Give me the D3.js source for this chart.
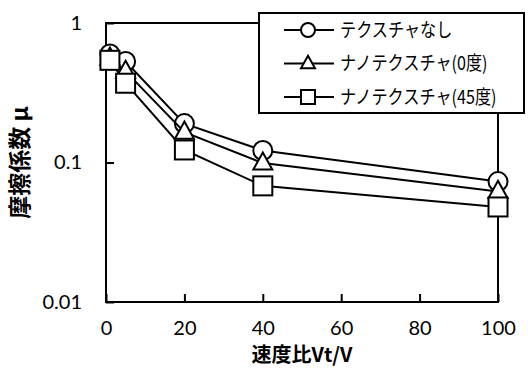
<!DOCTYPE html>
<html>
<head>
<meta charset="utf-8">
<script src="https://cdn.jsdelivr.net/npm/d3@7"></script>
<style>
  body { margin: 0; background: #fff; }
  svg { display: block; }
</style>
</head>
<body>
<div id="chart"></div>
<script>
// data
const speedRatio = [1, 5, 20, 40, 100]
const seriesNames = ["テクスチャなし", "ナノテクスチャ(0度)", "ナノテクスチャ(45度)"]
const muNoTexture = [0.60, 0.53, 0.19, 0.122, 0.073]
const muNano0 = [0.56, 0.45, 0.165, 0.099, 0.062]
const muNano45 = [0.54, 0.37, 0.123, 0.068, 0.048]
const xTicks = [0, 20, 40, 60, 80, 100]
const yTicks = [0.01, 0.1, 1]

const width = 528
const height = 368
const margin = { top: 23, right: 30, bottom: 66, left: 106 }
const numFont = "Lato, 'Open Sans', sans-serif"
const jpFont = "'Noto Sans CJK JP', sans-serif"

const series = [
    { name: seriesNames[0], values: muNoTexture, shape: "circle" },
    { name: seriesNames[1], values: muNano0, shape: "triangle" },
    { name: seriesNames[2], values: muNano45, shape: "square" },
]

const svg = d3.select("#chart")
    .append("svg")
    .attr("width", width)
    .attr("height", height)

svg.append("rect").attr("width", width).attr("height", height).attr("fill", "#fff")

const x = d3.scaleLinear()
    .domain([0, 100])
    .range([margin.left, width - margin.right])

const y = d3.scaleLog()
    .domain([0.01, 1])
    .range([height - margin.bottom, margin.top])

// axes, ticks pointing inward
const xAxis = svg.append("g")
    .attr("transform", `translate(0, ${height - margin.bottom})`)
    .call(d3.axisBottom(x).tickValues(xTicks).tickSize(-8).tickPadding(19).tickSizeOuter(0))
const yAxis = svg.append("g")
    .attr("transform", `translate(${margin.left}, 0)`)
    .call(d3.axisLeft(y).tickValues(yTicks).tickFormat(d3.format("")).tickSize(-8).tickPadding(24).tickSizeOuter(0))

for (const g of [xAxis, yAxis]) {
    g.select(".domain").remove()
    g.selectAll(".tick line").attr("stroke", "#000").attr("stroke-width", 2)
    g.selectAll(".tick text")
        .attr("fill", "#000")
        .style("font-family", numFont)
        .style("font-size", "20px")
}

// plot frame
svg.append("rect")
    .attr("x", x(0))
    .attr("y", y(1))
    .attr("width", x(100) - x(0))
    .attr("height", y(0.01) - y(1))
    .attr("fill", "none")
    .attr("stroke", "#000")
    .attr("stroke-width", 2)

const drawMarker = (sel, shape, s) => {
    if (shape === "circle") {
        sel.append("circle").attr("r", s / 2)
    } else if (shape === "square") {
        sel.append("rect").attr("x", -s / 2).attr("y", -s / 2).attr("width", s).attr("height", s)
    } else {
        const h = s * 0.9
        sel.append("path").attr("d", `M0,${-h * 0.62}L${s / 2},${h * 0.38}L${-s / 2},${h * 0.38}Z`)
    }
    sel.selectAll("*").attr("fill", "#fff").attr("stroke", "#000").attr("stroke-width", 2)
}

const line = d3.line()
    .x(d => x(d[0]))
    .y(d => y(d[1]))

series.forEach(s => {
    const pts = d3.zip(speedRatio, s.values)
    svg.append("path")
        .datum(pts)
        .attr("d", line)
        .attr("fill", "none")
        .attr("stroke", "#000")
        .attr("stroke-width", 2)
    svg.append("g")
        .selectAll("g")
        .data(pts)
        .join("g")
        .attr("transform", d => `translate(${x(d[0])}, ${y(d[1])})`)
        .each(function () { drawMarker(d3.select(this), s.shape, 19) })
})

// legend
const legend = svg.append("g").attr("transform", "translate(259, 13)")
legend.append("rect")
    .attr("width", 265)
    .attr("height", 100)
    .attr("fill", "#fff")
    .attr("stroke", "#000")
    .attr("stroke-width", 2)

const items = legend.selectAll(".legend-item")
    .data(series)
    .join("g")
    .attr("class", "legend-item")
    .attr("transform", (d, i) => `translate(0, ${17 + i * 33.5})`)

items.append("line")
    .attr("x1", 25).attr("x2", 75)
    .attr("stroke", "#000").attr("stroke-width", 2)
items.append("g")
    .attr("transform", "translate(49, 0)")
    .each(function (d) { drawMarker(d3.select(this), d.shape, 14) })
// the original legend font is narrow and tall, squeeze it sideways
items.append("text")
    .attr("transform", "translate(81, 0) scale(0.85, 1)")
    .attr("dy", "0.36em")
    .style("font-family", jpFont)
    .style("font-size", "19px")
    .text(d => d.name)

// axis titles
svg.append("text")
    .attr("x", (x(0) + x(100)) / 2)
    .attr("y", 362)
    .attr("text-anchor", "middle")
    .style("font-family", jpFont)
    .style("font-weight", "bold")
    .style("font-size", "20px")
    .text("速度比Vt/V")

svg.append("text")
    .attr("transform", `translate(28, ${(y(0.01) + y(1)) / 2}) rotate(-90)`)
    .attr("text-anchor", "middle")
    .style("font-family", jpFont)
    .style("font-weight", "bold")
    .style("font-size", "23px")
    .text("摩擦係数 μ")
</script>
</body>
</html>
